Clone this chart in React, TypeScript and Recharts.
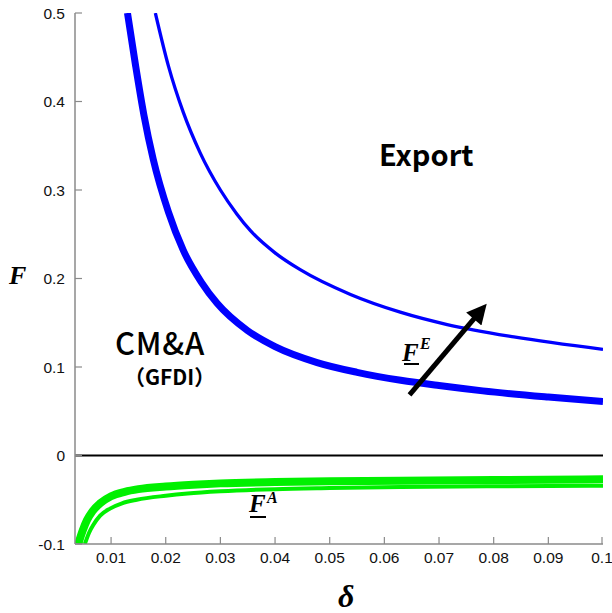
import { LineChart, Line, XAxis, YAxis, ReferenceLine } from "recharts";

// lower export cutoff (thick blue)
const exportLowD = [0.013, 0.0145, 0.016, 0.0177, 0.0205, 0.0232, 0.0265, 0.0294, 0.035, 0.04, 0.0477, 0.055, 0.063, 0.07, 0.078, 0.09, 0.1];
const exportLowF = [0.5, 0.44, 0.385, 0.335, 0.275, 0.232, 0.196, 0.172, 0.141, 0.123, 0.105, 0.094, 0.085, 0.079, 0.073, 0.066, 0.061];

// upper export cutoff (thin blue)
const exportHighD = [0.0181, 0.0205, 0.0232, 0.0263, 0.03, 0.033, 0.0355, 0.04, 0.0446, 0.0538, 0.0629, 0.0715, 0.0837, 0.1];
const exportHighF = [0.5, 0.44, 0.388, 0.342, 0.3, 0.273, 0.254, 0.229, 0.21, 0.182, 0.162, 0.148, 0.134, 0.12];

// M&A cutoffs (green)
const maThickD = [0.004, 0.0048, 0.0056, 0.0066, 0.008, 0.01, 0.0125, 0.015, 0.02, 0.025, 0.03, 0.04, 0.05, 0.063, 0.08, 0.1];
const maThickF = [-0.1, -0.085, -0.073, -0.063, -0.054, -0.046, -0.041, -0.038, -0.035, -0.033, -0.0315, -0.03, -0.0292, -0.0285, -0.0277, -0.0269];
const maThinD = [0.0052, 0.006, 0.0068, 0.008, 0.0098, 0.012, 0.0147, 0.02, 0.024, 0.03, 0.04, 0.05, 0.063, 0.08, 0.1];
const maThinF = [-0.1, -0.087, -0.078, -0.068, -0.06, -0.054, -0.05, -0.0455, -0.043, -0.0405, -0.038, -0.0368, -0.0357, -0.0348, -0.0341];

// arrow showing the shift of F^E
const arrowD = [0.0646, 0.077];
const arrowF = [0.0684, 0.1589];

const xTicks = [0.01, 0.02, 0.03, 0.04, 0.05, 0.06, 0.07, 0.08, 0.09, 0.1];
const yTicks = [-0.1, 0, 0.1, 0.2, 0.3, 0.4, 0.5];

const toRows = (d: number[], f: number[]) => d.map((v, i) => ({ d: v, F: f[i] }));

const frame = "#8a8a8a";
const tickFont = "'Liberation Sans', Arial, sans-serif";
const serif = "'Liberation Serif', 'Times New Roman', serif";
const jp = "'Noto Sans CJK JP', 'Noto Sans', sans-serif";

const YTick = (props: any) => {
  const { x, y, payload } = props;
  return (
    <g>
      <line x1={x + 10} x2={x + 17} y1={y} y2={y} stroke={frame} strokeWidth={1.2} />
      <text x={x} y={y} dy="0.36em" textAnchor="end" fill="#111" style={{ fontFamily: tickFont, fontSize: 15.5 }}>
        {payload.value}
      </text>
    </g>
  );
};

const XTick = (props: any) => {
  const { x, y, payload } = props;
  return (
    <g>
      <line x1={x} x2={x} y1={y - 7} y2={y - 14} stroke={frame} strokeWidth={1.2} />
      <text x={x} y={y} dy="0.75em" textAnchor="middle" fill="#111" style={{ fontFamily: tickFont, fontSize: 15.5 }}>
        {payload.value}
      </text>
    </g>
  );
};

export default function App() {
  return (
    <div style={{ position: "absolute", left: 0, top: 0, width: 612, height: 613, background: "#fff" }}>
      <LineChart width={612} height={613} margin={{ top: 13, right: 9, bottom: 0, left: 0 }}>
        <defs>
          <marker id="arrowHead" viewBox="0 0 10 10" refX={2.7} refY={5} markerWidth={22} markerHeight={20} markerUnits="userSpaceOnUse" orient="auto">
            <path d="M0,0 L10,5 L0,10 z" fill="#000" />
          </marker>
        </defs>
        <XAxis
          dataKey="d"
          type="number"
          domain={[0.0034, 0.1]}
          allowDataOverflow
          ticks={xTicks}
          tick={<XTick />}
          tickSize={0}
          tickMargin={7}
          height={69}
          axisLine={{ stroke: frame, strokeWidth: 1.5 }}
          tickLine={false}
        />
        <XAxis xAxisId="top" orientation="top" type="number" domain={[0, 1]} height={0} tick={false} tickLine={false} axisLine={{ stroke: frame, strokeWidth: 1.5 }} />
        <YAxis
          type="number"
          domain={[-0.1, 0.5]}
          allowDataOverflow
          ticks={yTicks}
          tick={<YTick />}
          tickSize={0}
          tickMargin={10}
          width={75}
          axisLine={{ stroke: frame, strokeWidth: 1.5 }}
          tickLine={false}
        />
        <YAxis yAxisId="right" orientation="right" type="number" domain={[0, 1]} width={0} tick={false} tickLine={false} axisLine={{ stroke: frame, strokeWidth: 1.5 }} />
        <ReferenceLine y={0} stroke="#000" strokeWidth={2} />
        <Line data={toRows(maThinD, maThinF)} dataKey="F" type="monotone" stroke="#00f000" strokeWidth={4} dot={false} isAnimationActive={false} />
        <Line data={toRows(maThickD, maThickF)} dataKey="F" type="monotone" stroke="#00f000" strokeWidth={8} dot={false} isAnimationActive={false} />
        <Line data={toRows(exportHighD, exportHighF)} dataKey="F" type="monotone" stroke="#0000ff" strokeWidth={3.3} dot={false} isAnimationActive={false} />
        <Line data={toRows(exportLowD, exportLowF)} dataKey="F" type="monotone" stroke="#0000ff" strokeWidth={7} dot={false} isAnimationActive={false} />
        <Line data={toRows(arrowD, arrowF)} dataKey="F" type="linear" stroke="#000" strokeWidth={5} dot={false} markerEnd="url(#arrowHead)" isAnimationActive={false} />
      </LineChart>
      <svg width={612} height={613} style={{ position: "absolute", left: 0, top: 0, pointerEvents: "none" }}>
        <text x={9} y={284} fontFamily={serif} fontWeight="bold" fontStyle="italic" fontSize={26} fill="#000">F</text>
        <text x={338} y={607} fontFamily={serif} fontWeight="bold" fontStyle="italic" fontSize={32} fill="#000">δ</text>
        <text x={379} y={166} fontFamily={jp} fontWeight="bold" fontSize={29} fill="#000">Export</text>
        <text x={115} y={355} fontFamily={jp} fontWeight={500} fontSize={31} letterSpacing={0.8} fill="#000">CM&amp;A</text>
        <text x={124} y={385} fontFamily={jp} fontWeight="bold" fontSize={21} fill="#000">（GFDI）</text>
        <text x={402} y={361} fontFamily={serif} fontWeight="bold" fontStyle="italic" fontSize={25} fill="#000">F</text>
        <line x1={404} x2={419} y1={364} y2={364} stroke="#000" strokeWidth={2} />
        <text x={420} y={349} fontFamily={serif} fontWeight="bold" fontStyle="italic" fontSize={16} fill="#000">E</text>
        <text x={249} y={512} fontFamily={serif} fontWeight="bold" fontStyle="italic" fontSize={25} fill="#000">F</text>
        <line x1={250} x2={266} y1={517} y2={517} stroke="#000" strokeWidth={2} />
        <text x={267} y={503} fontFamily={serif} fontWeight="bold" fontStyle="italic" fontSize={16} fill="#000">A</text>
      </svg>
    </div>
  );
}
